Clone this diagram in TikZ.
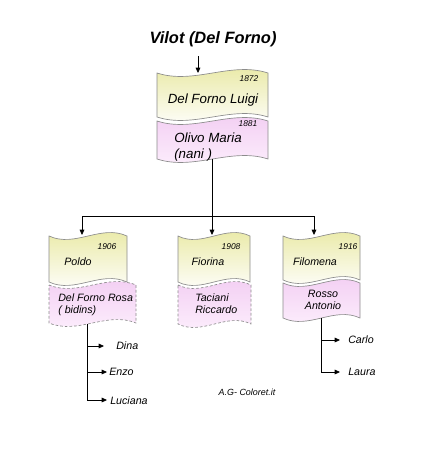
\documentclass[tikz,border=0pt]{standalone}
\usepackage{fontspec}
\setmainfont{Liberation Sans}
\usetikzlibrary{arrows.meta}
\definecolor{cardyellow}{RGB}{232,232,160}
\definecolor{cardpink}{RGB}{242,204,242}
\definecolor{cardpinklow}{RGB}{253,240,253}
\definecolor{cardline}{RGB}{140,140,140}
% #1 left, #2 right, #3 top, #4 bottom, #5 style
\newcommand{\famcard}[5]{%
  \pgfmathsetmacro{\cardA}{#1+(#2-#1)/3}%
  \pgfmathsetmacro{\cardB}{#1+2*(#2-#1)/3}%
  \shadedraw[#5] (#1,#3) .. controls (\cardA,#3+12) and (\cardB,#3-12) .. (#2,#3)
    -- (#2,#4) .. controls (\cardB,#4-12) and (\cardA,#4+12) .. (#1,#4) -- cycle;}
\tikzset{
  yellowcard/.style={draw=cardline, line width=0.5pt, top color=cardyellow, bottom color=white},
  pinkcard/.style={draw=cardline, line width=0.5pt, top color=cardpink, bottom color=cardpinklow},
  spousedash/.style={dash pattern=on 2pt off 1.5pt},
  link/.style={line width=0.6pt, -{Triangle[length=4pt,width=3.5pt]}},
  bigname/.style={font=\fontsize{10}{12}\selectfont\itshape, inner sep=0pt, align=left},
  kidname/.style={font=\fontsize{8}{9}\selectfont\itshape, inner sep=0pt, align=left},
  yearlabel/.style={font=\fontsize{6.3}{7}\selectfont\itshape, inner sep=0pt},
}
\begin{document}
\begin{tikzpicture}[x=0.75pt, y=-0.75pt]
    \useasboundingbox (0,0) rectangle (423,450);
    \node[font=\fontsize{12.3}{14}\selectfont\bfseries\itshape] (title) at (213,39) {Vilot (Del Forno)};
    % parents
    \famcard{157}{268}{73}{117}{yellowcard}
    \famcard{157}{268}{121}{159}{pinkcard}
    \node[yearlabel] (y1872) at (249,79) {1872};
    \node[bigname] (luigi) at (213,100) {Del Forno Luigi};
    \node[yearlabel] (y1881) at (248,124) {1881};
    \node[bigname, anchor=west] (maria) at (174,147) {Olivo Maria\\(nani )};
    % children
    \famcard{49}{127}{236}{282}{yellowcard}
    \famcard{49}{136}{285}{323}{pinkcard, spousedash}
    \famcard{178}{250}{236}{282}{yellowcard}
    \famcard{178}{251}{285}{324}{pinkcard, spousedash}
    \famcard{283}{360}{236}{280}{yellowcard}
    \famcard{283}{360}{283}{318}{pinkcard}
    \node[yearlabel] (y1906) at (107,247) {1906};
    \node[kidname] (poldo) at (78,262) {Poldo};
    \node[kidname, anchor=west] (rosa) at (58,305) {Del Forno Rosa\\( bidins)};
    \node[yearlabel] (y1908) at (231,247) {1908};
    \node[kidname] (fiorina) at (208,262) {Fiorina};
    \node[kidname, anchor=west] (riccardo) at (195,304) {Taciani\\Riccardo};
    \node[yearlabel] (y1916) at (348,247) {1916};
    \node[kidname] (filomena) at (315,262) {Filomena};
    \node[kidname, align=center] (antonio) at (323,300) {Rosso\\Antonio};
    % grandchildren
    \node[kidname, anchor=west] (dina) at (116,346) {Dina};
    \node[kidname, anchor=west] (enzo) at (109,372) {Enzo};
    \node[kidname, anchor=west] (luciana) at (110,401) {Luciana};
    \node[kidname, anchor=west] (carlo) at (348,340) {Carlo};
    \node[kidname, anchor=west] (laura) at (348,372) {Laura};
    \node[font=\fontsize{6.7}{8}\selectfont\itshape] (credit) at (247,392) {A.G- Coloret.it};
    % connectors
    \coordinate (top-start) at (198,56);
    \coordinate (in-luigi) at (198,73);
    \coordinate (out-maria) at (212,159);
    \coordinate (bus-mid) at (212,216);
    \coordinate (bus-left) at (82,216);
    \coordinate (bus-right) at (314,216);
    \coordinate (in-poldo) at (82,235);
    \coordinate (in-fiorina) at (212,235);
    \coordinate (in-filomena) at (314,235);
    \coordinate (out-poldo) at (87,324);
    \coordinate (tip-dina) at (104,346);
    \coordinate (tip-enzo) at (107,372);
    \coordinate (tip-luciana) at (107,400);
    \coordinate (out-filomena) at (321,318);
    \coordinate (tip-carlo) at (340,340);
    \coordinate (tip-laura) at (340,372);
    \draw[link] (top-start) -- (in-luigi);
    \draw[line width=0.6pt] (out-maria) -- (bus-mid);
    \draw[line width=0.6pt] (bus-left) -- (bus-right);
    \draw[link] (bus-left) -- (in-poldo);
    \draw[link] (bus-mid) -- (in-fiorina);
    \draw[link] (bus-right) -- (in-filomena);
    \draw[link] (out-poldo) |- (tip-luciana);
    \draw[link] (out-poldo |- tip-dina) -- (tip-dina);
    \draw[link] (out-poldo |- tip-enzo) -- (tip-enzo);
    \draw[link] (out-filomena) |- (tip-laura);
    \draw[link] (out-filomena |- tip-carlo) -- (tip-carlo);
\end{tikzpicture}
\end{document}
